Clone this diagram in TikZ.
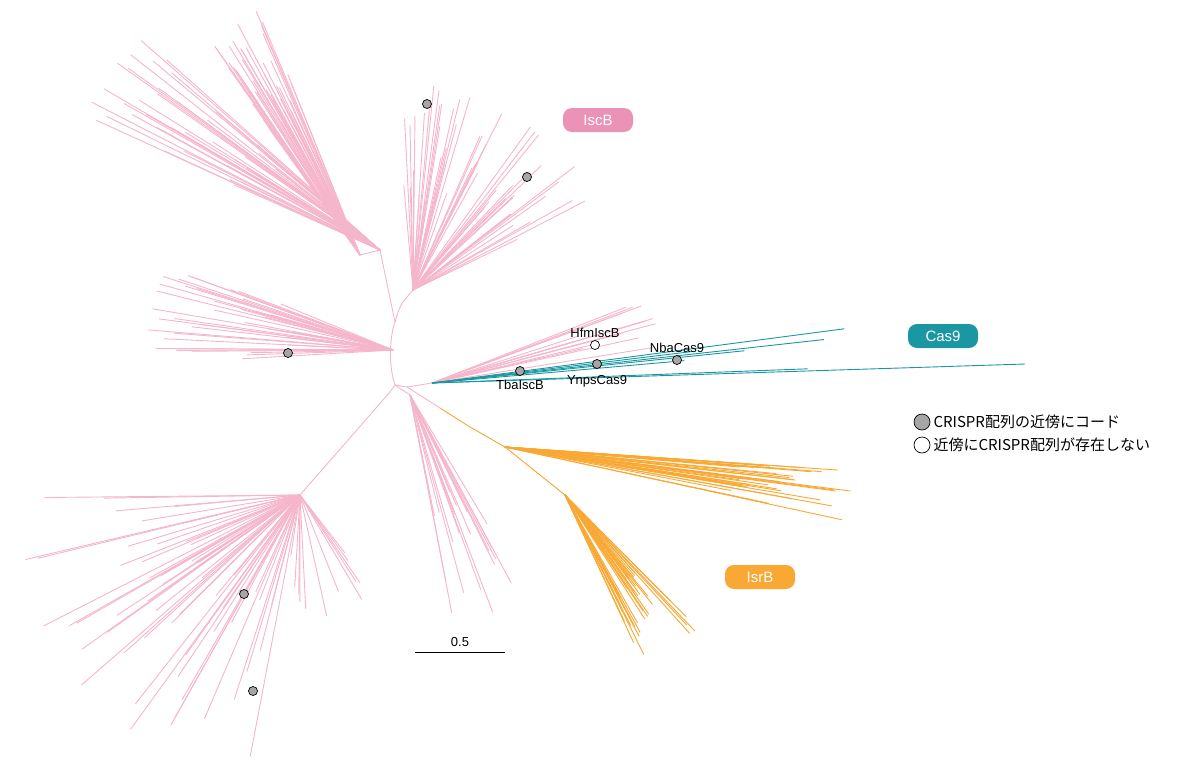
\documentclass[tikz,border=0pt]{standalone}
\usepackage{fontspec}
\setmainfont{Liberation Sans}
\newfontfamily\jpfont{Noto Sans CJK JP}
\usetikzlibrary{positioning,calc}
\definecolor{iscpink}{HTML}{F5B5CA}
\definecolor{iscbadge}{HTML}{EA93B6}
\definecolor{casteal}{HTML}{1A97A2}
\definecolor{isrorange}{HTML}{F8A833}
\tikzset{
  branch/.style={iscpink,line width=0.9pt},
  casbranch/.style={casteal,line width=0.9pt},
  isrbranch/.style={isrorange,line width=0.9pt},
  hit/.style={circle,draw=black,fill=gray!70,inner sep=0pt,minimum size=9pt,line width=0.7pt},
  nohit/.style={circle,draw=black,fill=white,inner sep=0pt,minimum size=9pt,line width=0.7pt},
  badge/.style={rounded corners=9pt,text=white,font=\fontsize{15}{17}\selectfont,minimum width=70pt,minimum height=24pt},
  lbl/.style={font=\fontsize{13}{15}\selectfont,inner sep=1pt}
}
\newcommand\treefan[7]{%
  \foreach \k in {1,...,#6}{%
    \pgfmathsetmacro\ang{#2+(#3-#2)*rnd}%
    \pgfmathsetmacro\len{#4+(#5-#4)*rnd}%
    \draw[#7] (#1) -- ++(\ang:\len);
  }}
\begin{document}
\begin{tikzpicture}[x=1pt,y=-1pt]
  \useasboundingbox (0,0) rectangle (1200,777);
  \pgfmathsetseed{7}
  % branch points
  \coordinate (root) at (395,385);
  \coordinate (up)   at (395,322);
  \coordinate (top)  at (413,290);
  \coordinate (tl)   at (380,250);
  \coordinate (tt)   at (360,255);
  \coordinate (lf)   at (393,350);
  \coordinate (cas)  at (432,383);
  \coordinate (rj)   at (407,387);
  \coordinate (dn)   at (390,392);
  \coordinate (ll)   at (300,495);
  \coordinate (lr)   at (410,395);
  \coordinate (isr)  at (470,427);
  \coordinate (isra) at (505,447);
  \coordinate (isrb) at (565,495);

  % backbone
  \draw[branch] (root) .. controls (388,365) and (390,335) .. (up)
                .. controls (400,305) .. (top);
  \draw[branch] (up) -- (tl) -- (tt);
  \draw[branch] (root) -- (rj) -- (cas);
  \draw[branch] (root) -- (dn) -- (ll);
  \draw[branch] (root) -- (lr);
  \draw[branch] (rj) -- (440,408);
  \draw[isrbranch] (440,408) -- (isr) -- (isra) -- (isrb);

  % fans
  \treefan{tl}{204}{222}{120}{330}{40}{branch}
  \treefan{tt}{234}{250}{150}{265}{45}{branch}
  \treefan{top}{265}{335}{90}{205}{55}{branch}
  \treefan{lf}{175}{203}{100}{250}{40}{branch}
  \treefan{cas}{338}{352}{140}{240}{14}{branch}
  \treefan{cas}{352}{358}{250}{440}{6}{casbranch}
  \draw[casbranch] (cas) -- (1025,364);
  \treefan{isra}{3}{13}{220}{350}{35}{isrbranch}
  \treefan{isrb}{45}{66}{100}{200}{35}{isrbranch}
  \treefan{lr}{58}{80}{100}{240}{20}{branch}
  \treefan{ll}{100}{180}{100}{290}{55}{branch}
  \treefan{ll}{50}{100}{60}{130}{12}{branch}

  % markers
  \node[hit] (d1) at (427,104) {};
  \node[hit] (d2) at (527,177) {};
  \node[hit] (d3) at (288,353) {};
  \node[hit] (tba) at (520,371) {};
  \node[hit] (ynp) at (597,364) {};
  \node[hit] (nba) at (677,360) {};
  \node[hit] (d4) at (244,594) {};
  \node[hit] (d5) at (253,691) {};
  \node[nohit] (hfm) at (595,345) {};
  \node[lbl,above=1pt of hfm] {HfmIscB};
  \node[lbl,above=1pt of nba] {NbaCas9};
  \node[lbl,below=3pt of tba] {TbaIscB};
  \node[lbl,below=5pt of ynp] {YnpsCas9};

  % clade badges
  \node[badge,fill=iscbadge] (iscb) at (598,120) {IscB};
  \node[badge,fill=casteal] (cas9) at (943,336) {Cas9};
  \node[badge,fill=isrorange] (isrb) at (760,577) {IsrB};

  % scale bar
  \coordinate (sb1) at (415,652);
  \coordinate (sb2) at (505,652);
  \draw[line width=0.8pt] (sb1) -- (sb2);
  \node[lbl,above=4pt] at ($(sb1)!0.5!(sb2)$) {0.5};

  % legend
  \node[hit,minimum size=16pt] (lg1) at (922,422) {};
  \node[nohit,minimum size=16pt] (lg2) at (922,445) {};
  \node[right=3pt of lg1,inner sep=0pt,font=\jpfont\fontsize{15}{17}\selectfont] {CRISPR配列の近傍にコード};
  \node[right=3pt of lg2,inner sep=0pt,font=\jpfont\fontsize{15}{17}\selectfont] {近傍にCRISPR配列が存在しない};
\end{tikzpicture}
\end{document}
